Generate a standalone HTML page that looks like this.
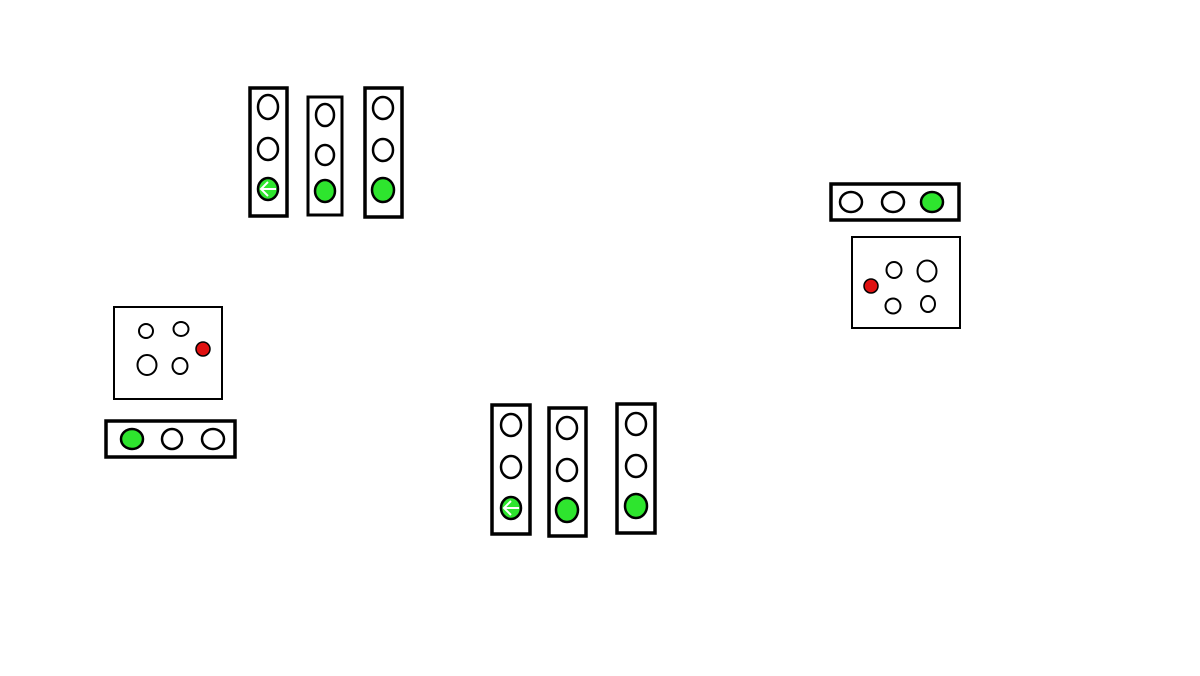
<!DOCTYPE html>
<html><head><meta charset="utf-8"><style>html,body{margin:0;padding:0;background:#fff}svg{display:block}</style></head>
<body>
<svg width="1200" height="676" viewBox="0 0 1200 676" xmlns="http://www.w3.org/2000/svg">
<g fill="#fff" stroke="#000">
<!-- top group -->
<rect x="250" y="88" width="37" height="128" stroke-width="3.5"/>
<ellipse cx="268" cy="107" rx="10" ry="12" stroke-width="2.5"/>
<ellipse cx="268" cy="149" rx="10" ry="11" stroke-width="2.5"/>
<ellipse cx="268" cy="189" rx="10" ry="11" stroke-width="2.5" fill="#2ee52e"/>
<rect x="308" y="97" width="34" height="118" stroke-width="3"/>
<ellipse cx="325" cy="115" rx="9" ry="11" stroke-width="2.5"/>
<ellipse cx="325" cy="155" rx="9" ry="10" stroke-width="2.5"/>
<ellipse cx="325" cy="191" rx="10" ry="11" stroke-width="2.5" fill="#2ee52e"/>
<rect x="365" y="88" width="37" height="129" stroke-width="3.5"/>
<ellipse cx="383" cy="108" rx="10" ry="11" stroke-width="2.5"/>
<ellipse cx="383" cy="150" rx="10" ry="11" stroke-width="2.5"/>
<ellipse cx="383" cy="190" rx="11" ry="12" stroke-width="2.5" fill="#2ee52e"/>
<!-- bottom group -->
<rect x="492" y="405" width="38" height="129" stroke-width="3.5"/>
<ellipse cx="511" cy="425" rx="10" ry="11" stroke-width="2.5"/>
<ellipse cx="511" cy="467" rx="10" ry="11" stroke-width="2.5"/>
<ellipse cx="511" cy="508" rx="10" ry="11" stroke-width="2.5" fill="#2ee52e"/>
<rect x="549" y="408" width="37" height="128" stroke-width="3.5"/>
<ellipse cx="567" cy="428" rx="10" ry="11" stroke-width="2.5"/>
<ellipse cx="567" cy="470" rx="10" ry="11" stroke-width="2.5"/>
<ellipse cx="567" cy="510" rx="11" ry="12" stroke-width="2.5" fill="#2ee52e"/>
<rect x="617" y="404" width="38" height="129" stroke-width="3.5"/>
<ellipse cx="636" cy="424" rx="10" ry="11" stroke-width="2.5"/>
<ellipse cx="636" cy="466" rx="10" ry="11" stroke-width="2.5"/>
<ellipse cx="636" cy="506" rx="11" ry="12" stroke-width="2.5" fill="#2ee52e"/>
<!-- right -->
<rect x="831" y="184" width="128" height="36" stroke-width="3.5"/>
<ellipse cx="851" cy="202" rx="11" ry="10" stroke-width="2.5"/>
<ellipse cx="893" cy="202" rx="11" ry="10" stroke-width="2.5"/>
<ellipse cx="932" cy="202" rx="11" ry="10" stroke-width="2.5" fill="#2ee52e"/>
<rect x="852" y="237" width="108" height="91" stroke-width="2"/>
<ellipse cx="894" cy="270" rx="7.5" ry="8" stroke-width="2"/>
<ellipse cx="927" cy="271" rx="9.5" ry="10.5" stroke-width="2"/>
<ellipse cx="893" cy="306" rx="7.5" ry="7.5" stroke-width="2"/>
<ellipse cx="928" cy="304" rx="7" ry="8" stroke-width="2"/>
<circle cx="871" cy="286" r="7" stroke-width="1.5" fill="#e01010"/>
<!-- left -->
<rect x="114" y="307" width="108" height="92" stroke-width="2"/>
<ellipse cx="146" cy="331" rx="7" ry="7" stroke-width="2"/>
<ellipse cx="181" cy="329" rx="7.5" ry="7" stroke-width="2"/>
<ellipse cx="147" cy="365" rx="9.5" ry="10" stroke-width="2"/>
<ellipse cx="180" cy="366" rx="7.5" ry="8" stroke-width="2"/>
<circle cx="203" cy="349" r="7" stroke-width="1.5" fill="#e01010"/>
<rect x="106" y="421" width="129" height="36" stroke-width="3.5"/>
<ellipse cx="132" cy="439" rx="11" ry="10" stroke-width="2.5" fill="#2ee52e"/>
<ellipse cx="172" cy="439" rx="10" ry="10" stroke-width="2.5"/>
<ellipse cx="213" cy="439" rx="11" ry="10" stroke-width="2.5"/>
</g>
<!-- arrows -->
<g stroke="#fff" stroke-width="2" fill="none">
<path d="M276 189 H261 M268 182 L261 189 L268 196"/>
<path d="M519 508 H504 M511 501 L504 508 L511 515"/>
</g>
</svg>
</body></html>
